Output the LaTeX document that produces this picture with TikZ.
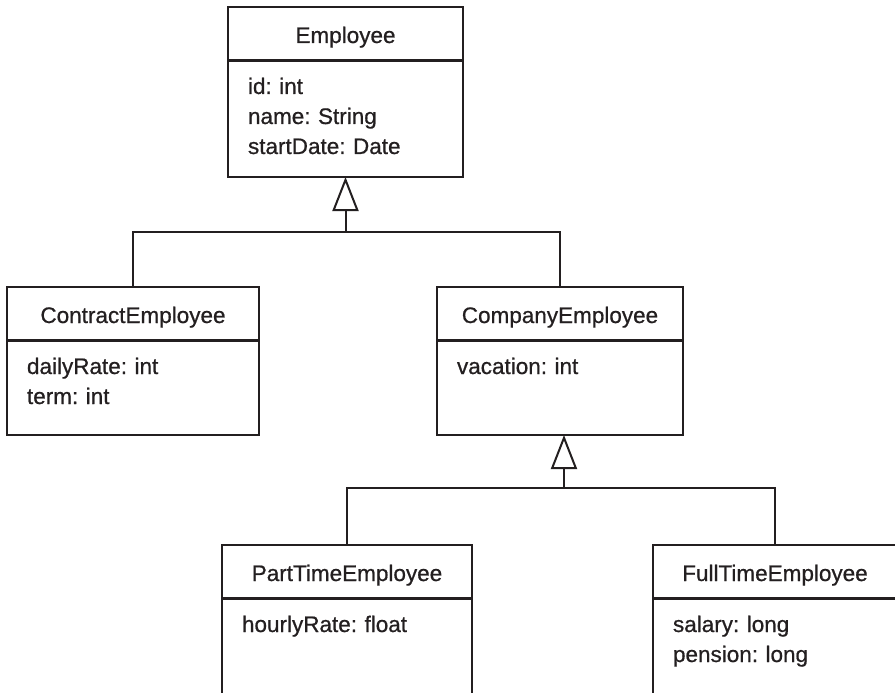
\documentclass[tikz,border=0pt]{standalone}
\usepackage{fontspec}
\setmainfont{Liberation Sans}[UprightFeatures={FakeBold=0.7}]
\usetikzlibrary{arrows.meta, positioning}
\definecolor{ink}{RGB}{35,31,32}
\frenchspacing

\begin{document}
\begin{tikzpicture}[
        x=1pt, y=-1pt,
        font=\fontsize{22.5pt}{30pt}\selectfont,
        every node/.style={outer sep=0pt},
        classname/.style={rectangle, draw=ink, text=ink, line width=2pt, anchor=north west,
            minimum height=53pt, inner sep=0pt, text height=19pt, text depth=0pt},
        attrs/.style={rectangle, draw=ink, text=ink, line width=2pt, align=left,
            inner xsep=20pt, inner ysep=17pt, text height=16pt, text depth=#1},
        inherit/.style={draw=ink, line width=2pt},
        generalize/.style={inherit, -{Triangle[open, length=34pt, width=26pt]}},
    ]
    \useasboundingbox (0,0) rectangle (895,693);
    \clip (0,0) rectangle (895,693);

    \node (emp) [classname, minimum width=235pt] at (228,7) {Employee};
    \node (empattr) [attrs=66pt, text width=195pt, below=1pt of emp] {id: int\\name: String\\startDate: Date};

    \node (contract) [classname, minimum width=252pt] at (7,287) {ContractEmployee};
    \node (contractattr) [attrs=44pt, text width=212pt, below=1pt of contract] {dailyRate: int\\term: int};

    \node (company) [classname, minimum width=246pt] at (437,287) {CompanyEmployee};
    \node (companyattr) [attrs=44pt, text width=206pt, below=1pt of company] {vacation: int};

    \node (parttime) [classname, minimum width=250pt] at (222,545) {PartTimeEmployee};
    \node (parttimeattr) [attrs=120pt, text width=210pt, below=1pt of parttime] {hourlyRate: float};

    \node (fulltime) [classname, minimum width=244pt] at (653,545) {FullTimeEmployee};
    \node (fulltimeattr) [attrs=120pt, text width=204pt, below=1pt of fulltime] {salary: long\\pension: long};

    % Employee hierarchy
    \coordinate (bar1) at ([yshift=-55pt]empattr.south);
    \draw [inherit] (contract.north) |- (bar1) -| (company.north);
    \draw [generalize] (bar1) -- (empattr.south);

    % CompanyEmployee hierarchy
    \coordinate (bar2) at ([xshift=4pt, yshift=-53pt]companyattr.south);
    \draw [inherit] (parttime.north) |- (bar2) -| (fulltime.north);
    \draw [generalize] (bar2) -- (bar2 |- companyattr.south);
\end{tikzpicture}
\end{document}
